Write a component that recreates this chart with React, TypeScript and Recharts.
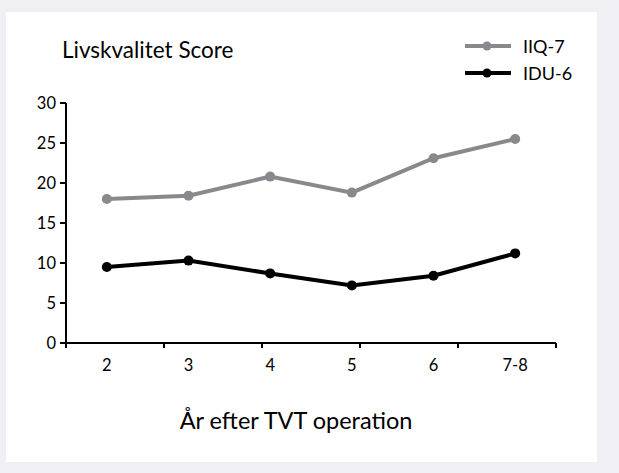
import { LineChart, Line, XAxis, YAxis, Legend } from "recharts";

const years = ["2", "3", "4", "5", "6", "7-8"];
const iiq7 = [18.0, 18.4, 20.8, 18.8, 23.1, 25.5];
const idu6 = [9.5, 10.3, 8.7, 7.2, 8.4, 11.2];
const yTicks = [0, 5, 10, 15, 20, 25, 30];
const bandEdges = [0, 1, 2, 3, 4, 5, 6];

const GREY = "#88898c";
const FONT = "Lato, 'Open Sans', sans-serif";

const data = years.map((year, i) => ({ year, iiq: iiq7[i], idu: idu6[i] }));

const series = [
  { name: "IIQ-7", color: GREY },
  { name: "IDU-6", color: "#000" },
];

function LegendBox() {
  return (
    <div style={{ fontFamily: FONT, fontSize: 18, color: "#000" }}>
      {series.map((s) => (
        <div
          key={s.name}
          style={{ display: "flex", alignItems: "center", height: 27 }}
        >
          <svg width={46} height={12} style={{ marginRight: 12 }}>
            <line x1={0} y1={6} x2={46} y2={6} stroke={s.color} strokeWidth={4} />
            <circle cx={22} cy={6} r={4.5} fill={s.color} />
          </svg>
          <span>{s.name}</span>
        </div>
      ))}
    </div>
  );
}

// edge axis only draws tick marks, labels come from the category axis
const emptyTick = () => <g />;

export default function App() {
  return (
    <div
      style={{
        position: "fixed",
        left: 0,
        top: 0,
        width: 619,
        height: 473,
        background: "#efeff4",
      }}
    >
      <div
        style={{
          position: "absolute",
          left: 6,
          top: 12,
          width: 591,
          height: 450,
          background: "#fff",
        }}
      >
        <div
          style={{
            position: "absolute",
            left: 56,
            top: 24,
            fontFamily: FONT,
            fontSize: 22.5,
            color: "#000",
          }}
        >
          Livskvalitet Score
        </div>
        <LineChart
          width={591}
          height={450}
          data={data}
          margin={{ top: 91, right: 41, left: 20, bottom: 89 }}
        >
          <XAxis
            xAxisId="a_edges"
            type="number"
            domain={[0, 6]}
            ticks={bandEdges}
            allowDataOverflow
            height={1}
            axisLine={{ stroke: "#000", strokeWidth: 2 }}
            tickLine={{ stroke: "#000", strokeWidth: 2 }}
            tickSize={5}
            tick={emptyTick}
          />
          <XAxis
            xAxisId="b_cat"
            dataKey="year"
            scale="band"
            height={29}
            axisLine={false}
            tickLine={false}
            tickSize={0}
            tickMargin={15}
            tick={{ fontSize: 16.5, fill: "#000", fontFamily: FONT }}
          />
          <YAxis
            domain={[0, 30]}
            ticks={yTicks}
            width={40}
            axisLine={{ stroke: "#000", strokeWidth: 2 }}
            tickLine={{ stroke: "#000", strokeWidth: 2 }}
            tickSize={6}
            tickMargin={4}
            tick={{ fontSize: 16.5, fill: "#000", fontFamily: FONT }}
          />
          <Legend
            content={<LegendBox />}
            layout="horizontal"
            verticalAlign="middle"
            align="center"
            wrapperStyle={{ position: "absolute", left: 459, top: 20, width: 130 }}
          />
          <Line
            xAxisId="b_cat"
            dataKey="iiq"
            name="IIQ-7"
            stroke={GREY}
            strokeWidth={4}
            dot={{ r: 5, fill: GREY, stroke: GREY, strokeWidth: 0 }}
            activeDot={false}
            isAnimationActive={false}
          />
          <Line
            xAxisId="b_cat"
            dataKey="idu"
            name="IDU-6"
            stroke="#000"
            strokeWidth={4}
            dot={{ r: 5, fill: "#000", stroke: "#000", strokeWidth: 0 }}
            activeDot={false}
            isAnimationActive={false}
          />
        </LineChart>
        <div
          style={{
            position: "absolute",
            left: 0,
            width: 580,
            top: 394,
            textAlign: "center",
            fontFamily: FONT,
            fontSize: 23.5,
            color: "#000",
          }}
        >
          År efter TVT operation
        </div>
      </div>
    </div>
  );
}
